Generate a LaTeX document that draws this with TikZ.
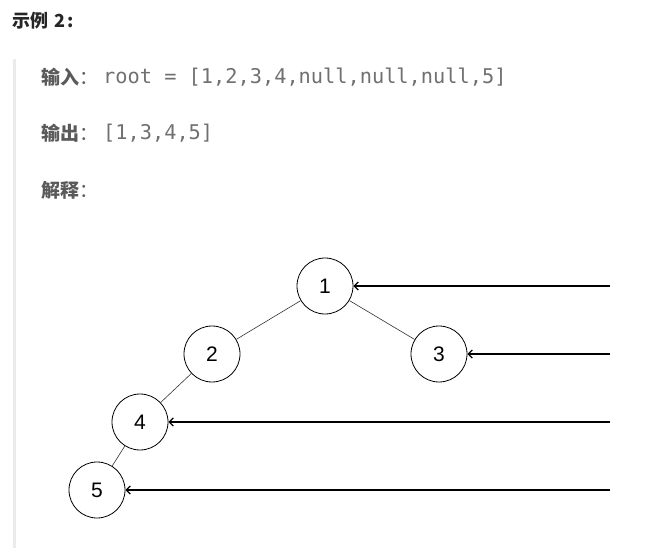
\documentclass[tikz,border=0pt]{standalone}
\usepackage{fontspec}
\setmainfont{Liberation Sans}
\setmonofont{DejaVu Sans Mono}
\newfontfamily\cjk{Noto Sans CJK SC}
\usetikzlibrary{arrows.meta}

\definecolor{headgray}{HTML}{262626}
\definecolor{lblgray}{HTML}{5A5A5A}
\definecolor{codegray}{HTML}{707070}
\definecolor{bargray}{HTML}{EBEBEB}

\begin{document}
\begin{tikzpicture}[x=1pt, y=-1pt,
    headtext/.style={anchor=west, inner sep=0pt, text=headgray, font=\cjk\bfseries\fontsize{18}{20}\selectfont},
    lbltext/.style={anchor=west, inner sep=0pt, text=lblgray, font=\cjk\bfseries\fontsize{19}{22}\selectfont},
    codetext/.style={anchor=west, inner sep=0pt, text=codegray, font=\ttfamily\fontsize{20.3}{22}\selectfont},
    tnode/.style={circle, draw, line width=0.8pt, minimum size=56pt, inner sep=0pt, font=\fontsize{21}{21}\selectfont},
    tedge/.style={line width=0.6pt, draw=black!80},
    ptr/.style={-{Straight Barb[length=4pt,width=8pt]}, line width=1.3pt}]

    \useasboundingbox (0,0) rectangle (664,553);
    \fill[bargray] (13,59) rectangle (16,548);

    % heading and text lines
    \node (title) at ( 12, 21) [headtext] {示例\hspace{6pt}2\hspace{2pt}:};

    \node (inlbl)  at ( 41, 77) [lbltext] {输入{\mdseries ：}};
    \node (incode) at (103, 77) [codetext] {root = [1,2,3,4,null,null,null,5]};

    \node (outlbl)  at ( 41, 133) [lbltext] {输出{\mdseries ：}};
    \node (outcode) at (103, 133) [codetext] {[1,3,4,5]};

    \node (explbl) at ( 41, 190) [lbltext] {解释{\mdseries ：}};

    % tree
    \node (n1) at (325, 286) [tnode] {1};
    \node (n2) at (212, 354) [tnode] {2};
    \node (n3) at (439, 354) [tnode] {3};
    \node (n4) at (140, 422) [tnode] {4};
    \node (n5) at ( 97, 490) [tnode] {5};

    \draw[tedge] (n1) -- (n2);
    \draw[tedge] (n1) -- (n3);
    \draw[tedge] (n2) -- (n4);
    \draw[tedge] (n4) -- (n5);

    % right side view pointers
    \coordinate (r1) at (610, 286);
    \coordinate (r2) at (610, 354);
    \coordinate (r3) at (610, 422);
    \coordinate (r4) at (610, 490);

    \draw[ptr] (r1) -- (n1);
    \draw[ptr] (r2) -- (n3);
    \draw[ptr] (r3) -- (n4);
    \draw[ptr] (r4) -- (n5);

\end{tikzpicture}
\end{document}
